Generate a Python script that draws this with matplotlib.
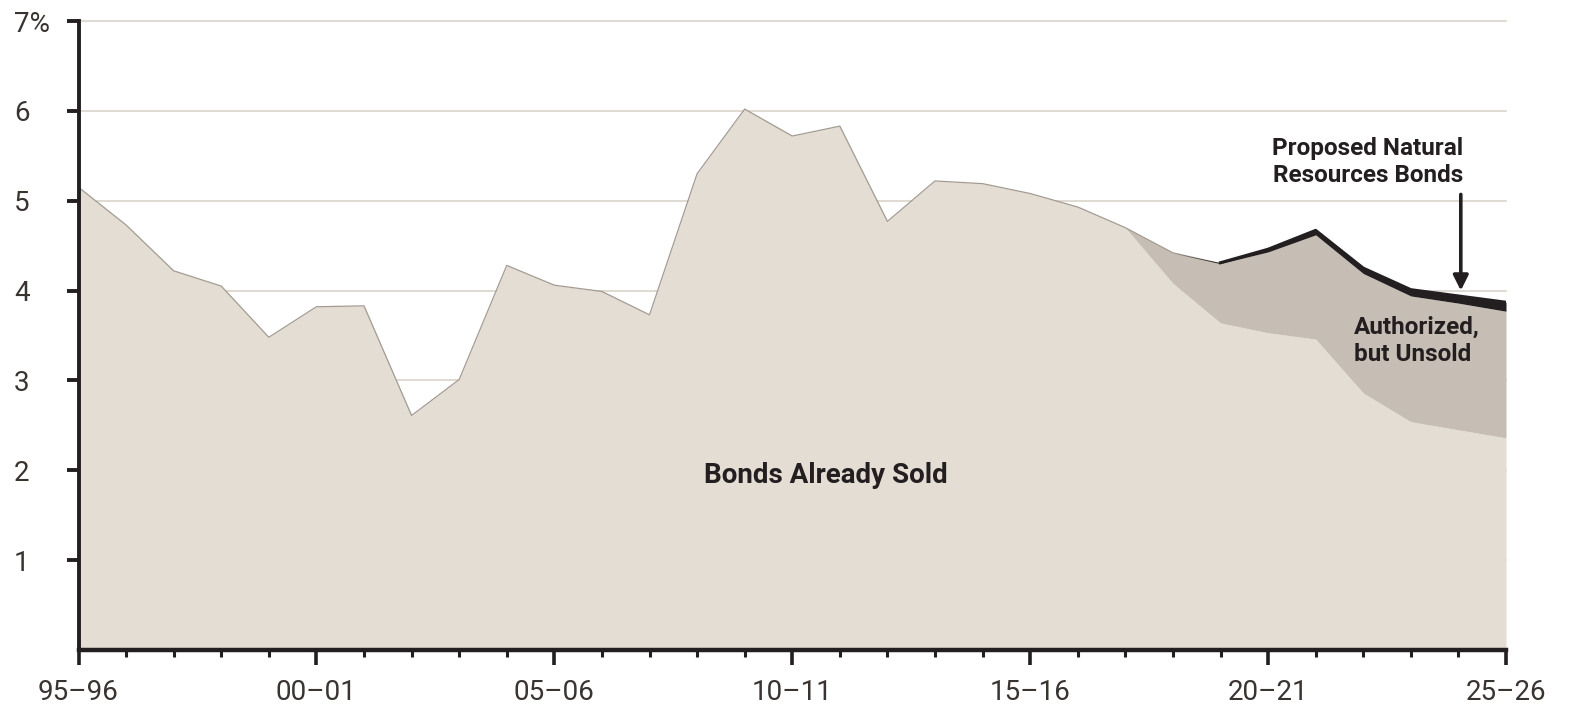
import matplotlib
matplotlib.use("Agg")
import matplotlib.pyplot as plt
import numpy as np

# fiscal years (start year), 1995-96 .. 2025-26
years = list(range(1995, 2026))

# debt service ratio from bonds already sold (%)
sold = [5.15, 4.73, 4.22, 4.05, 3.48, 3.82, 3.83, 2.61, 3.01, 4.28,
        4.06, 3.99, 3.73, 5.30, 6.02, 5.72, 5.83, 4.77, 5.22, 5.19,
        5.08, 4.93, 4.70, 4.08, 3.64, 3.53, 3.46, 2.86, 2.54, 2.45, 2.36]

# authorized but unsold (added on top of sold)
unsold = [0, 0, 0, 0, 0, 0, 0, 0, 0, 0,
          0, 0, 0, 0, 0, 0, 0, 0, 0, 0,
          0, 0, 0, 0.34, 0.66, 0.90, 1.16, 1.33, 1.40, 1.41, 1.41]

# proposed natural resources bonds (added on top)
proposed = [0] * 24 + [0.01, 0.03, 0.05, 0.06, 0.07, 0.08, 0.10]

ytick_vals = [1, 2, 3, 4, 5, 6, 7]
ytick_text = ["1", "2", "3", "4", "5", "6", "7%"]
xtick_vals = [1995, 2000, 2005, 2010, 2015, 2020, 2025]
xtick_text = ["95\u201396", "00\u201301", "05\u201306", "10\u201311",
              "15\u201316", "20\u201321", "25\u201326"]

sold = np.array(sold)
auth_top = sold + np.array(unsold)
prop_top = auth_top + np.array(proposed)

light = "#E3DDD4"
dark = "#C6BEB4"
ink = "#231F20"
txt = "#3A3431"

plt.rcParams['font.family'] = ['Roboto', 'DejaVu Sans']

fig = plt.figure(figsize=(15.74, 7.10), dpi=100)
ax = fig.add_axes([78.5 / 1574, 1 - 650 / 710, (1506 - 78.5) / 1574, (650 - 21) / 710])

for v in ytick_vals:
    ax.axhline(v, color="#D6CFC5", lw=1.1, zorder=0, clip_on=False)

ax.fill_between(years, 0, sold, color=light, zorder=1, lw=0)
ax.fill_between(years, sold, auth_top, color=dark, zorder=1, lw=0)
ax.plot(years[:25], auth_top[:25], color="#A39B92", lw=0.9, zorder=2)
ax.fill_between(years, auth_top, prop_top, color=ink, zorder=3, lw=0)
ax.plot(years[24:], prop_top[24:], color=ink, lw=2.2, zorder=3,
        solid_joinstyle="round")

ax.set_xlim(1995, 2025)
ax.set_ylim(0, 7)

for s in ["top", "right"]:
    ax.spines[s].set_visible(False)
ax.spines["left"].set_linewidth(2.8)
ax.spines["bottom"].set_linewidth(3.2)
ax.spines["left"].set_color(ink)
ax.spines["bottom"].set_color(ink)
ax.spines["left"].set_zorder(5)
ax.spines["bottom"].set_zorder(5)

ax.set_yticks(ytick_vals)
ax.set_yticklabels(ytick_text)
ax.tick_params(axis="y", direction="out", length=8.5, width=2.8,
               color=ink, labelsize=20, labelcolor=txt, pad=38)
for lab in ax.get_yticklabels():
    lab.set_horizontalalignment("left")

ax.set_xticks(xtick_vals)
ax.set_xticklabels(xtick_text)
ax.set_xticks(years, minor=True)
ax.tick_params(axis="x", which="major", direction="out", length=11,
               width=2.6, color=ink, labelsize=20, labelcolor=txt, pad=10)
ax.tick_params(axis="x", which="minor", direction="out", length=5,
               width=2.2, color=ink)

ax.text(2010.7, 1.94, "Bonds Already Sold", ha="center", va="center",
        fontsize=20, fontweight="bold", color=ink)
ax.text(2022.1, 5.43, "Proposed Natural\nResources Bonds", ha="center",
        va="center", fontsize=17.5, fontweight="bold", color=ink,
        linespacing=1.2)
ax.text(2021.8, 3.44, "Authorized,\nbut Unsold", ha="left", va="center",
        fontsize=17.5, fontweight="bold", color=ink, linespacing=1.2)
ax.annotate("", xy=(2024.05, 4.0), xytext=(2024.05, 5.07),
            arrowprops=dict(arrowstyle="-|>,head_width=0.45,head_length=0.9",
                            color=ink, lw=2.6, shrinkA=0, shrinkB=0))

fig.savefig("out.png", dpi=100)
